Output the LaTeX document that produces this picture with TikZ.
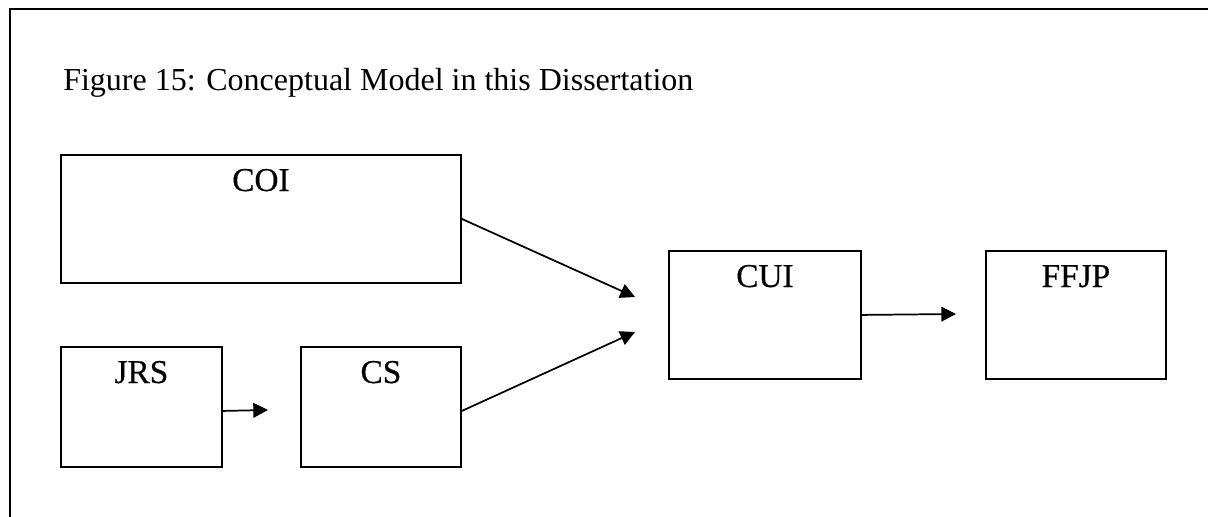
\documentclass[tikz,border=0pt]{standalone}
\usepackage{fontspec}
\setmainfont{Liberation Serif}
\newfontfamily\lblfont{Liberation Serif}[FakeBold=0.4]
\usetikzlibrary{arrows.meta,calc}
\begin{document}
\begin{tikzpicture}[x=0.75pt,y=-0.75pt,
  boxnode/.style={draw, line width=1.4pt, inner sep=0pt, anchor=north west},
  lbl/.style={anchor=base, inner sep=0pt, font=\lblfont\fontsize{25}{30}\selectfont},
  conn/.style={line width=1.3pt, -{Triangle[length=11pt,width=11pt]}}]
\useasboundingbox (0,0) rectangle (1208,517);
% outer frame
\draw[line width=1.6pt] (10,517) -- (10,9) -- (1208,9);
% title
\node[anchor=base west, inner sep=0pt, font=\fontsize{24}{28}\selectfont] (title) at (63,91) {Figure 15: Conceptual Model in this Dissertation};
% boxes
\node[boxnode, minimum width=300pt, minimum height=96pt] (coi) at (60,154) {};
\node[boxnode, minimum width=120.75pt, minimum height=90pt] (jrs) at (60,346) {};
\node[boxnode, minimum width=120pt, minimum height=90pt] (cs) at (300,346) {};
\node[boxnode, minimum width=144pt, minimum height=96pt] (cui) at (668,250) {};
\node[boxnode, minimum width=135pt, minimum height=96pt] (ffjp) at (985,250) {};
% labels
\node[lbl] (coilbl) at ($(coi.north)+(0,37)$) {COI};
\node[lbl] (jrslbl) at ($(jrs.north)+(0,37)$) {JRS};
\node[lbl] (cslbl) at ($(cs.north)+(0,37)$) {CS};
\node[lbl] (cuilbl) at ($(cui.north)+(0,37)$) {CUI};
\node[lbl] (ffjplbl) at ($(ffjp.north)+(0,37)$) {FFJP};
% arrow tips
\coordinate (t1) at (635,297);
\coordinate (t2) at (635,332);
\coordinate (t3) at (956,314);
\coordinate (t4) at (268,410);
% connectors
\draw[conn] (coi.east) -- (t1);
\draw[conn] ($(cs.east)+(0,4)$) -- (t2);
\draw[conn] ($(jrs.east)+(0,4)$) -- (t4);
\draw[conn] (cui.east) -- (t3);
\end{tikzpicture}
\end{document}
